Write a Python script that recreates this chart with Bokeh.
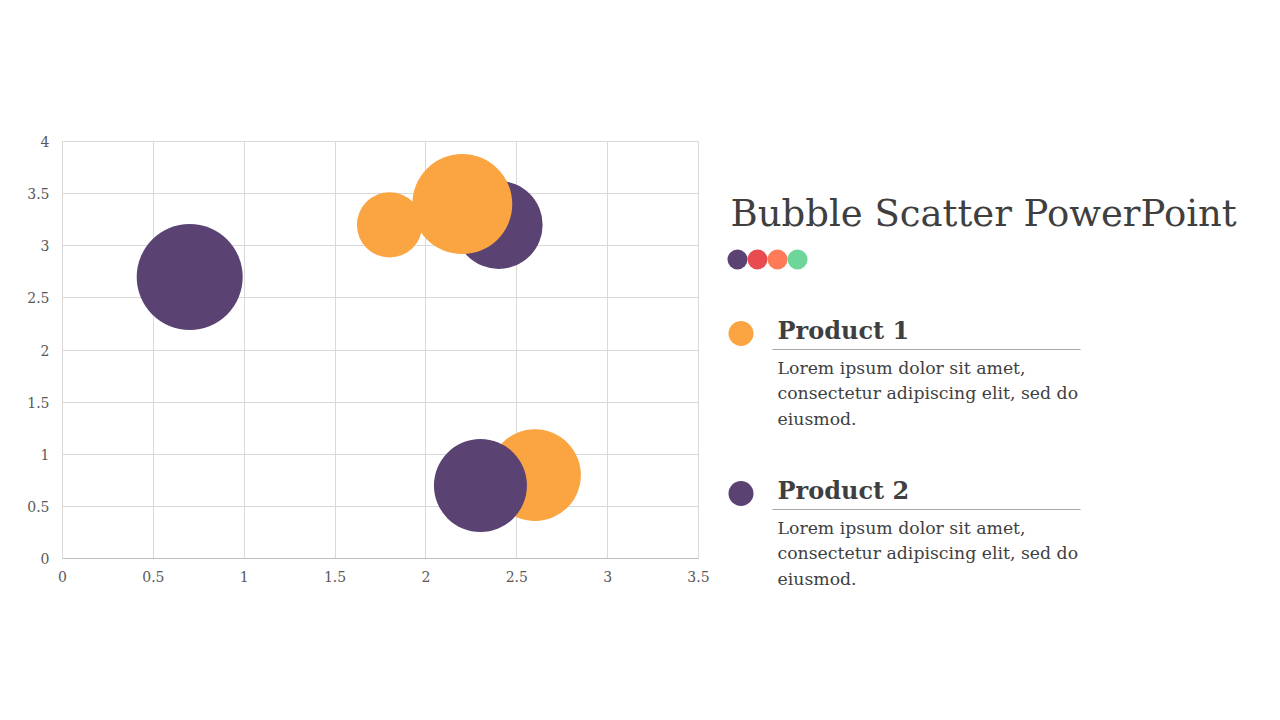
from bokeh.plotting import figure
from bokeh.layouts import row
from bokeh.models import Range1d, FixedTicker, ColumnDataSource
from bokeh.core.properties import value
from bokeh.embed import file_html
from bokeh.resources import INLINE
import numpy as np

# ---- data ----
p1_x = [1.8, 2.2, 2.6]
p1_y = [3.2, 3.4, 0.8]
p1_size = [3.8, 8.9, 7.5]
p2_x = [0.7, 2.4, 2.3]
p2_y = [2.7, 3.2, 0.7]
p2_size = [10.0, 6.9, 7.7]
series_names = ["Product 1", "Product 2"]
series_colors = ["#FAA442", "#5A4272"]
x_ticks = [0, 0.5, 1, 1.5, 2, 2.5, 3, 3.5]
y_ticks = [0, 0.5, 1, 1.5, 2, 2.5, 3, 3.5, 4]
title_text = "Bubble Scatter PowerPoint"
deco_colors = ["#5A4272", "#E84B50", "#FF7B58", "#6FD69A"]
body_lines = ["Lorem ipsum dolor sit amet,", "consectetur adipiscing elit, sed do", "eiusmod."]

SERIF = "DejaVu Serif"
TXT = "#3F3F3F"
K = 16.76  # px radius per sqrt(bubble size)


def diam(sizes):
    return [2 * K * np.sqrt(s) for s in sizes]


# ---- chart ----
p = figure(width=712, height=704, output_backend="svg", toolbar_location=None,
           x_range=Range1d(0, 3.5), y_range=Range1d(0, 4),
           min_border_left=62, min_border_right=14, min_border_top=141, min_border_bottom=146)
p.frame_align = False
p.background_fill_color = "white"
p.border_fill_color = "white"
p.outline_line_color = "#D9D9D9"

p.xaxis.ticker = FixedTicker(ticks=x_ticks)
p.yaxis.ticker = FixedTicker(ticks=y_ticks)
p.xgrid.ticker = FixedTicker(ticks=x_ticks)
p.ygrid.ticker = FixedTicker(ticks=y_ticks)
for g in (p.xgrid, p.ygrid):
    g.grid_line_color = "#D9D9D9"
    g.grid_line_width = 1
for ax in (p.xaxis, p.yaxis):
    ax.major_tick_line_color = None
    ax.minor_tick_line_color = None
    ax.major_tick_out = 0
    ax.major_tick_in = 0
    ax.major_label_text_font = SERIF
    ax.major_label_text_font_size = "14px"
    ax.major_label_text_color = "#595959"
p.xaxis.axis_line_color = "#BFBFBF"
p.yaxis.axis_line_color = "#D9D9D9"
p.xaxis.major_label_standoff = 12
p.yaxis.major_label_standoff = 13
p.xaxis.major_label_overrides = {0: "0", 1: "1", 2: "2", 3: "3"}
p.yaxis.major_label_overrides = {0: "0", 1: "1", 2: "2", 3: "3", 4: "4"}

d1 = diam(p1_size)
d2 = diam(p2_size)
s1 = ColumnDataSource(dict(x=p1_x, y=p1_y, d=d1))
p2_back = [1]  # Product 2 bubbles drawn behind Product 1
p2_front = [i for i in range(len(p2_x)) if i not in p2_back]
sb = ColumnDataSource(dict(x=[p2_x[i] for i in p2_back], y=[p2_y[i] for i in p2_back],
                           d=[d2[i] for i in p2_back]))
sf = ColumnDataSource(dict(x=[p2_x[i] for i in p2_front], y=[p2_y[i] for i in p2_front],
                           d=[d2[i] for i in p2_front]))
p.scatter("x", "y", size="d", source=sb, marker="circle", fill_color=series_colors[1], line_color=None)
p.scatter("x", "y", size="d", source=s1, marker="circle", fill_color=series_colors[0], line_color=None)
p.scatter("x", "y", size="d", source=sf, marker="circle", fill_color=series_colors[1], line_color=None)

# ---- right panel: data coords == page pixel coords (y downward) ----
q = figure(width=552, height=704, output_backend="svg", toolbar_location=None,
           x_range=Range1d(712, 1264), y_range=Range1d(704, 0),
           min_border_left=0, min_border_right=0, min_border_top=0, min_border_bottom=0)
q.frame_align = False
q.axis.visible = False
q.grid.visible = False
q.outline_line_color = None
q.background_fill_color = "white"
q.border_fill_color = "white"


def txt(xs, ys, texts, size, color=TXT, style="normal"):
    q.text(x=xs, y=ys, text=texts, text_font=value(SERIF), text_font_size=size,
           text_font_style=style, text_color=color, text_baseline="alphabetic", text_align="left")


txt([730], [213], [title_text], "37px")
q.scatter(x=[737 + 20 * i for i in range(len(deco_colors))], y=[259] * len(deco_colors),
          size=20, marker="circle", fill_color=deco_colors, line_color=None)

for i, (name, col) in enumerate(zip(series_names, series_colors)):
    off = 160 * i
    q.scatter(x=[740.5], y=[333 + off], size=25, marker="circle", fill_color=col, line_color=None)
    txt([777], [330 + off], [name], "24px", style="bold")
    q.segment(x0=[772], y0=[349 + off], x1=[1080], y1=[349 + off], line_color="#A6A6A6", line_width=1)
    txt([777] * len(body_lines), [367 + off + 25.5 * j for j in range(len(body_lines))],
        body_lines, "17.3px", color="#404040")

layout = row(p, q, spacing=0)
open("out.html", "w").write(file_html(layout, INLINE))
